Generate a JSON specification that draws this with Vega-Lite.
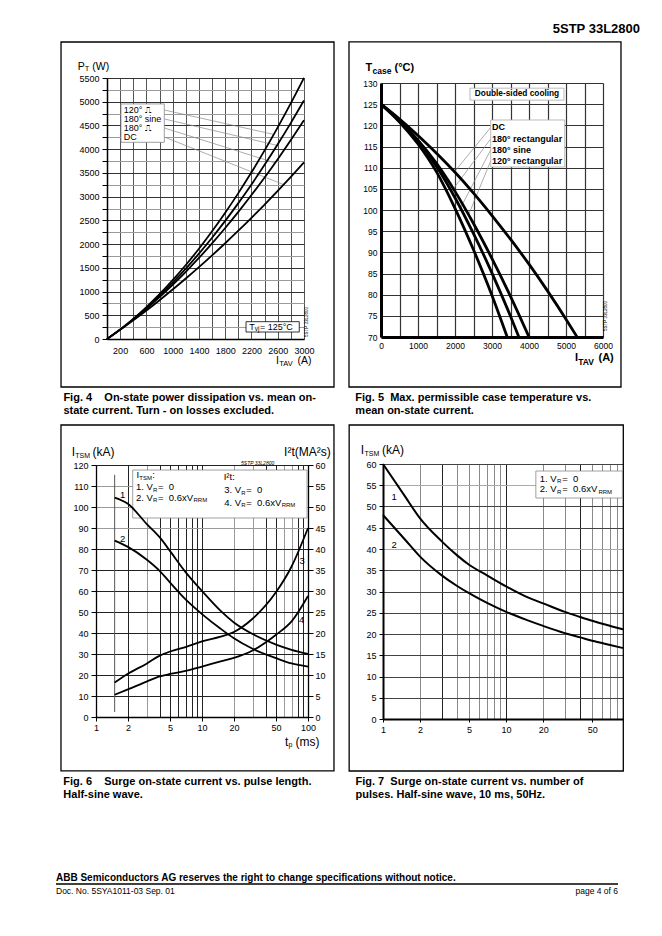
{
  "$schema": "https://vega.github.io/schema/vega-lite/v6.json",
  "padding": {"left": 46, "top": 23, "right": 5, "bottom": 5},
  "title": {"text": "5STP 33L2800", "orient": "top", "anchor": "end", "fontSize": 13, "fontWeight": "bold", "offset": 4, "dx": 13, "color": "black"},
  "datasets": {
    "fig4": [
      {"s": "DC", "i": 0, "p": 0}, {"s": "DC", "i": 200, "p": 193}, {"s": "DC", "i": 400, "p": 393}, {"s": "DC", "i": 600, "p": 601}, {"s": "DC", "i": 800, "p": 818}, {"s": "DC", "i": 1000, "p": 1042}, {"s": "DC", "i": 1200, "p": 1274}, {"s": "DC", "i": 1400, "p": 1514}, {"s": "DC", "i": 1600, "p": 1762}, {"s": "DC", "i": 1800, "p": 2018}, {"s": "DC", "i": 2000, "p": 2282}, {"s": "DC", "i": 2200, "p": 2554}, {"s": "DC", "i": 2400, "p": 2833}, {"s": "DC", "i": 2600, "p": 3121}, {"s": "DC", "i": 2800, "p": 3417}, {"s": "DC", "i": 3000, "p": 3720},
      {"s": "R180", "i": 0, "p": 0}, {"s": "R180", "i": 200, "p": 197}, {"s": "R180", "i": 400, "p": 409}, {"s": "R180", "i": 600, "p": 637}, {"s": "R180", "i": 800, "p": 881}, {"s": "R180", "i": 1000, "p": 1141}, {"s": "R180", "i": 1200, "p": 1416}, {"s": "R180", "i": 1400, "p": 1708}, {"s": "R180", "i": 1600, "p": 2015}, {"s": "R180", "i": 1800, "p": 2339}, {"s": "R180", "i": 2000, "p": 2678}, {"s": "R180", "i": 2200, "p": 3033}, {"s": "R180", "i": 2400, "p": 3404}, {"s": "R180", "i": 2600, "p": 3790}, {"s": "R180", "i": 2800, "p": 4193}, {"s": "R180", "i": 3000, "p": 4611},
      {"s": "S180", "i": 0, "p": 0}, {"s": "S180", "i": 200, "p": 198}, {"s": "S180", "i": 400, "p": 416}, {"s": "S180", "i": 600, "p": 654}, {"s": "S180", "i": 800, "p": 911}, {"s": "S180", "i": 1000, "p": 1187}, {"s": "S180", "i": 1200, "p": 1483}, {"s": "S180", "i": 1400, "p": 1799}, {"s": "S180", "i": 1600, "p": 2134}, {"s": "S180", "i": 1800, "p": 2489}, {"s": "S180", "i": 2000, "p": 2863}, {"s": "S180", "i": 2200, "p": 3257}, {"s": "S180", "i": 2400, "p": 3670}, {"s": "S180", "i": 2600, "p": 4103}, {"s": "S180", "i": 2800, "p": 4555}, {"s": "S180", "i": 3000, "p": 5027},
      {"s": "R120", "i": 0, "p": 0}, {"s": "R120", "i": 200, "p": 201}, {"s": "R120", "i": 400, "p": 425}, {"s": "R120", "i": 600, "p": 673}, {"s": "R120", "i": 800, "p": 944}, {"s": "R120", "i": 1000, "p": 1240}, {"s": "R120", "i": 1200, "p": 1559}, {"s": "R120", "i": 1400, "p": 1902}, {"s": "R120", "i": 1600, "p": 2269}, {"s": "R120", "i": 1800, "p": 2660}, {"s": "R120", "i": 2000, "p": 3074}, {"s": "R120", "i": 2200, "p": 3512}, {"s": "R120", "i": 2400, "p": 3974}, {"s": "R120", "i": 2600, "p": 4459}, {"s": "R120", "i": 2800, "p": 4969}, {"s": "R120", "i": 3000, "p": 5502}
    ],
    "fig4lead": [
      {"x1": 873, "y1": 4826, "x2": 2540, "y2": 4311},
      {"x1": 873, "y1": 4637, "x2": 2590, "y2": 4080},
      {"x1": 873, "y1": 4447, "x2": 2560, "y2": 3712},
      {"x1": 873, "y1": 4257, "x2": 2690, "y2": 3253}
    ],
    "fig4txt": [
      {"k": "t", "t": "P", "x": -446, "y": 5739},
      {"k": "ts", "t": "T", "x": -338, "y": 5680},
      {"k": "t", "t": "(W)", "x": -224, "y": 5739},
      {"k": "t", "t": "I", "x": 2573, "y": -464},
      {"k": "ts", "t": "TAV", "x": 2622, "y": -527},
      {"k": "t", "t": "(A)", "x": 2901, "y": -464},
      {"k": "l", "t": "120°  ⎍", "x": 254, "y": 4826},
      {"k": "l", "t": "180° sine", "x": 254, "y": 4637},
      {"k": "l", "t": "180°  ⎍", "x": 254, "y": 4447},
      {"k": "l", "t": "DC", "x": 254, "y": 4257},
      {"k": "l", "t": "T", "x": 2167, "y": 259},
      {"k": "ls", "t": "vj", "x": 2251, "y": 204},
      {"k": "l", "t": "= 125°C", "x": 2330, "y": 259},
      {"k": "w", "t": "5STP 33L2800", "x": 3041, "y": 358}
    ],
    "fig5": [
      {"s": "DC", "i": 0, "t": 125}, {"s": "DC", "i": 500, "t": 121.5}, {"s": "DC", "i": 1000, "t": 117.6}, {"s": "DC", "i": 1500, "t": 113.4}, {"s": "DC", "i": 2000, "t": 108.9}, {"s": "DC", "i": 2500, "t": 104.0}, {"s": "DC", "i": 3000, "t": 98.7}, {"s": "DC", "i": 3500, "t": 93.1}, {"s": "DC", "i": 4000, "t": 87.2}, {"s": "DC", "i": 4500, "t": 80.9}, {"s": "DC", "i": 5000, "t": 74.2}, {"s": "DC", "i": 5300, "t": 70.0},
      {"s": "R180", "i": 0, "t": 125}, {"s": "R180", "i": 500, "t": 121.1}, {"s": "R180", "i": 1000, "t": 116.5}, {"s": "R180", "i": 1500, "t": 111.0}, {"s": "R180", "i": 2000, "t": 104.4}, {"s": "R180", "i": 2500, "t": 96.8}, {"s": "R180", "i": 3000, "t": 88.5}, {"s": "R180", "i": 3500, "t": 79.6}, {"s": "R180", "i": 4000, "t": 70.0},
      {"s": "S180", "i": 0, "t": 125}, {"s": "S180", "i": 500, "t": 121.0}, {"s": "S180", "i": 1000, "t": 116.2}, {"s": "S180", "i": 1500, "t": 110.3}, {"s": "S180", "i": 2000, "t": 102.9}, {"s": "S180", "i": 2500, "t": 94.4}, {"s": "S180", "i": 3000, "t": 85.1}, {"s": "S180", "i": 3500, "t": 74.9}, {"s": "S180", "i": 3726, "t": 70.0},
      {"s": "R120", "i": 0, "t": 125}, {"s": "R120", "i": 500, "t": 120.8}, {"s": "R120", "i": 1000, "t": 115.6}, {"s": "R120", "i": 1500, "t": 109.0}, {"s": "R120", "i": 2000, "t": 100.4}, {"s": "R120", "i": 2500, "t": 90.6}, {"s": "R120", "i": 3000, "t": 79.8}, {"s": "R120", "i": 3250, "t": 73.9}, {"s": "R120", "i": 3411, "t": 70.0}
    ],
    "fig5lead": [
      {"x1": 2965, "y1": 119.5, "x2": 1985, "y2": 109.0},
      {"x1": 2965, "y1": 116.8, "x2": 1946, "y2": 104.9},
      {"x1": 2965, "y1": 114.2, "x2": 2150, "y2": 100.5},
      {"x1": 2965, "y1": 111.6, "x2": 2373, "y2": 99.0}
    ],
    "fig5txt": [
      {"k": "t", "t": "T", "x": -419, "y": 133.47},
      {"k": "ts", "t": "case", "x": -230, "y": 132.72},
      {"k": "t", "t": "(°C)", "x": 365, "y": 133.47},
      {"k": "t", "t": "I", "x": 5243, "y": 64.97},
      {"k": "ts", "t": "TAV", "x": 5332, "y": 64.21},
      {"k": "t", "t": "(A)", "x": 5878, "y": 64.97},
      {"k": "l", "t": "DC", "x": 3000, "y": 119.5},
      {"k": "l", "t": "180° rectangular", "x": 3000, "y": 116.8},
      {"k": "l", "t": "180° sine", "x": 3000, "y": 114.2},
      {"k": "l", "t": "120° rectangular", "x": 3000, "y": 111.6},
      {"k": "d", "t": "Double-sided cooling", "x": 3676, "y": 127.4},
      {"k": "w", "t": "5STP 33L2800", "x": 6081, "y": 74.96}
    ],
    "fig6": [
      {"s": "1", "t": 1.5, "v": 104.5}, {"s": "1", "t": 2, "v": 101.5}, {"s": "1", "t": 3, "v": 92}, {"s": "1", "t": 4, "v": 85.5}, {"s": "1", "t": 5, "v": 79}, {"s": "1", "t": 7, "v": 69}, {"s": "1", "t": 10, "v": 60}, {"s": "1", "t": 15, "v": 50.5}, {"s": "1", "t": 20, "v": 45}, {"s": "1", "t": 30, "v": 39.5}, {"s": "1", "t": 50, "v": 34.5}, {"s": "1", "t": 70, "v": 32}, {"s": "1", "t": 100, "v": 30},
      {"s": "2", "t": 1.5, "v": 84}, {"s": "2", "t": 2, "v": 81}, {"s": "2", "t": 3, "v": 75}, {"s": "2", "t": 4, "v": 69.5}, {"s": "2", "t": 5, "v": 64}, {"s": "2", "t": 7, "v": 56}, {"s": "2", "t": 10, "v": 49}, {"s": "2", "t": 15, "v": 42}, {"s": "2", "t": 20, "v": 37.5}, {"s": "2", "t": 30, "v": 32.5}, {"s": "2", "t": 50, "v": 28}, {"s": "2", "t": 70, "v": 25.5}, {"s": "2", "t": 100, "v": 24},
      {"s": "3", "t": 1.5, "v": 8.19}, {"s": "3", "t": 2, "v": 10.3}, {"s": "3", "t": 3, "v": 12.7}, {"s": "3", "t": 4, "v": 14.62}, {"s": "3", "t": 5, "v": 15.6}, {"s": "3", "t": 7, "v": 16.66}, {"s": "3", "t": 10, "v": 18.0}, {"s": "3", "t": 15, "v": 19.13}, {"s": "3", "t": 20, "v": 20.25}, {"s": "3", "t": 30, "v": 23.4}, {"s": "3", "t": 50, "v": 29.75}, {"s": "3", "t": 70, "v": 35.84}, {"s": "3", "t": 100, "v": 45.0},
      {"s": "4", "t": 1.5, "v": 5.29}, {"s": "4", "t": 2, "v": 6.56}, {"s": "4", "t": 3, "v": 8.44}, {"s": "4", "t": 4, "v": 9.66}, {"s": "4", "t": 5, "v": 10.24}, {"s": "4", "t": 7, "v": 10.98}, {"s": "4", "t": 10, "v": 12.0}, {"s": "4", "t": 15, "v": 13.23}, {"s": "4", "t": 20, "v": 14.06}, {"s": "4", "t": 30, "v": 15.84}, {"s": "4", "t": 50, "v": 19.6}, {"s": "4", "t": 70, "v": 22.75}, {"s": "4", "t": 100, "v": 28.8}
    ],
    "fig6txt": [
      {"k": "t", "t": "I", "x": 0.590, "y": 126.19},
      {"k": "ts", "t": "TSM", "x": 0.6378, "y": 124.52},
      {"k": "t", "t": "(kA)", "x": 0.9269, "y": 126.19},
      {"k": "t", "t": "I²t(MA²s)", "x": 59.5, "y": 126.19},
      {"k": "t", "t": "t", "x": 60.67, "y": -11.9},
      {"k": "ts", "t": "p", "x": 65.46, "y": -13.48},
      {"k": "t", "t": "(ms)", "x": 76.23, "y": -11.9},
      {"k": "l", "t": "I", "x": 2.411, "y": 115.10},
      {"k": "ls", "t": "TSM", "x": 2.562, "y": 113.81},
      {"k": "l", "t": ":", "x": 3.390, "y": 115.10},
      {"k": "l", "t": "1. V", "x": 2.384, "y": 109.52},
      {"k": "ls", "t": "R", "x": 3.450, "y": 108.33},
      {"k": "l", "t": "=\u00a0\u00a00", "x": 3.846, "y": 109.52},
      {"k": "l", "t": "2. V", "x": 2.384, "y": 104.29},
      {"k": "ls", "t": "R", "x": 3.450, "y": 103.10},
      {"k": "l", "t": "=\u00a0\u00a00.6xV", "x": 3.846, "y": 104.29},
      {"k": "ls", "t": "RRM", "x": 8.315, "y": 103.10},
      {"k": "l", "t": "I²t:", "x": 16.02, "y": 114.29},
      {"k": "l", "t": "3. V", "x": 16.23, "y": 107.95},
      {"k": "ls", "t": "R", "x": 23.49, "y": 106.81},
      {"k": "l", "t": "=\u00a0\u00a00", "x": 26.12, "y": 107.95},
      {"k": "l", "t": "4. V", "x": 16.23, "y": 102.05},
      {"k": "ls", "t": "R", "x": 23.49, "y": 100.95},
      {"k": "l", "t": "=\u00a0\u00a00.6xV", "x": 26.12, "y": 102.05},
      {"k": "ls", "t": "RRM", "x": 56.48, "y": 100.95},
      {"k": "l", "t": "1", "x": 1.684, "y": 105.7},
      {"k": "l", "t": "2", "x": 1.684, "y": 85},
      {"k": "l", "t": "3", "x": 83, "y": 74.2},
      {"k": "l", "t": "4", "x": 82.4, "y": 46.1},
      {"k": "w", "t": "5STP 33L2800", "x": 33.5, "y": 121.1}
    ],
    "fig7": [
      {"s": "1", "n": 1, "i": 60}, {"s": "1", "n": 1.5, "i": 52.5}, {"s": "1", "n": 2, "i": 47.2}, {"s": "1", "n": 3, "i": 41.8}, {"s": "1", "n": 4, "i": 38.5}, {"s": "1", "n": 5, "i": 36.3}, {"s": "1", "n": 7, "i": 33.8}, {"s": "1", "n": 10, "i": 31.2}, {"s": "1", "n": 15, "i": 28.6}, {"s": "1", "n": 20, "i": 27.2}, {"s": "1", "n": 30, "i": 25.2}, {"s": "1", "n": 40, "i": 24.0}, {"s": "1", "n": 50, "i": 23.1}, {"s": "1", "n": 70, "i": 21.9}, {"s": "1", "n": 89, "i": 21.1},
      {"s": "2", "n": 1, "i": 48}, {"s": "2", "n": 1.5, "i": 42.3}, {"s": "2", "n": 2, "i": 38.2}, {"s": "2", "n": 3, "i": 33.8}, {"s": "2", "n": 4, "i": 31.3}, {"s": "2", "n": 5, "i": 29.6}, {"s": "2", "n": 7, "i": 27.3}, {"s": "2", "n": 10, "i": 25.2}, {"s": "2", "n": 15, "i": 23.2}, {"s": "2", "n": 20, "i": 21.9}, {"s": "2", "n": 30, "i": 20.2}, {"s": "2", "n": 40, "i": 19.2}, {"s": "2", "n": 50, "i": 18.4}, {"s": "2", "n": 70, "i": 17.4}, {"s": "2", "n": 89, "i": 16.7}
    ],
    "fig7txt": [
      {"k": "t", "t": "I", "x": 0.6594, "y": 63.22},
      {"k": "ts", "t": "TSM", "x": 0.7066, "y": 62.47},
      {"k": "t", "t": "(kA)", "x": 0.981, "y": 63.22},
      {"k": "l", "t": "1. V", "x": 18.73, "y": 56.54},
      {"k": "ls", "t": "R", "x": 25.96, "y": 56.0},
      {"k": "l", "t": "=\u00a0\u00a00", "x": 28.51, "y": 56.54},
      {"k": "l", "t": "2. V", "x": 18.73, "y": 54.05},
      {"k": "ls", "t": "R", "x": 25.96, "y": 53.51},
      {"k": "l", "t": "=\u00a0\u00a00.6xV", "x": 28.51, "y": 54.05},
      {"k": "ls", "t": "RRM", "x": 56.23, "y": 53.51},
      {"k": "l", "t": "1", "x": 1.175, "y": 52.3},
      {"k": "l", "t": "2", "x": 1.175, "y": 40.9}
    ],
    "foot": [
      {"k": "b", "t": "ABB Semiconductors AG reserves the right to change specifications without notice.", "x": 0, "y": 14},
      {"k": "d", "t": "Doc. No. 5SYA1011-03 Sep. 01", "x": 0, "y": 1},
      {"k": "p", "t": "page 4 of 6", "x": 1, "y": 1}
    ]
  },
  "vconcat": [
    {
      "vconcat": [
        {
          "hconcat": [
            {"width": 1, "height": 1, "data": {"values": [{}]}, "mark": {"type": "point", "opacity": 0, "size": 1}, "encoding": {}},
            {
              "vconcat": [
                {"width": 1, "height": 1, "data": {"values": [{}]}, "mark": {"type": "point", "opacity": 0, "size": 1}, "encoding": {}},
                {
                  "width": 197, "height": 261,
                  "title": {"text": ["Fig. 4\u00a0\u00a0\u00a0\u00a0On-state power dissipation vs. mean on-", "\u00a0\u00a0\u00a0\u00a0\u00a0\u00a0\u00a0\u00a0\u00a0\u00a0\u00a0\u00a0\u00a0state current. Turn - on losses excluded."], "dx": 3},
                  "layer": [
                    {
                      "layer": [
                        {"data": {"values": [{}]}, "mark": {"type": "rect", "fill": "transparent", "stroke": "black", "strokeWidth": 1.3},
                         "encoding": {"x": {"datum": -700, "type": "quantitative", "axis": null, "scale": {"domain": [0, 3000], "nice": false, "zero": false}}, "x2": {"datum": 3457}, "y": {"datum": -1011, "type": "quantitative", "axis": null, "scale": {"domain": [0, 5500], "nice": false, "zero": false}}, "y2": {"datum": 6259}}},
                        {"data": {"name": "fig4lead"}, "mark": {"type": "rule", "color": "#888", "strokeWidth": 0.7},
                         "encoding": {"x": {"field": "x1", "type": "quantitative", "axis": null}, "y": {"field": "y1", "type": "quantitative", "axis": null}, "x2": {"field": "x2"}, "y2": {"field": "y2"}}},
                        {"data": {"values": [{}]}, "mark": {"type": "rect", "fill": "white", "stroke": "#888", "strokeWidth": 0.8},
                         "encoding": {"x": {"datum": 213, "type": "quantitative", "axis": null}, "x2": {"datum": 873}, "y": {"datum": 4145, "type": "quantitative", "axis": null}, "y2": {"datum": 4953}}},
                        {"data": {"values": [{}]}, "mark": {"type": "rect", "fill": "white", "stroke": "black", "strokeWidth": 0.8},
                         "encoding": {"x": {"datum": 2117, "type": "quantitative", "axis": null}, "x2": {"datum": 2928}, "y": {"datum": 147, "type": "quantitative", "axis": null}, "y2": {"datum": 365}}},
                        {"data": {"name": "fig4txt"}, "transform": [{"filter": "datum.k == 't'"}], "mark": {"type": "text", "align": "left", "baseline": "middle", "fontSize": 10.5},
                         "encoding": {"x": {"field": "x", "type": "quantitative", "axis": null}, "y": {"field": "y", "type": "quantitative", "axis": null}, "text": {"field": "t"}}},
                        {"data": {"name": "fig4txt"}, "transform": [{"filter": "datum.k == 'ts'"}], "mark": {"type": "text", "align": "left", "baseline": "middle", "fontSize": 7.5},
                         "encoding": {"x": {"field": "x", "type": "quantitative", "axis": null}, "y": {"field": "y", "type": "quantitative", "axis": null}, "text": {"field": "t"}}},
                        {"data": {"name": "fig4txt"}, "transform": [{"filter": "datum.k == 'l'"}], "mark": {"type": "text", "align": "left", "baseline": "middle", "fontSize": 9},
                         "encoding": {"x": {"field": "x", "type": "quantitative", "axis": null}, "y": {"field": "y", "type": "quantitative", "axis": null}, "text": {"field": "t"}}},
                        {"data": {"name": "fig4txt"}, "transform": [{"filter": "datum.k == 'ls'"}], "mark": {"type": "text", "align": "left", "baseline": "middle", "fontSize": 6.5},
                         "encoding": {"x": {"field": "x", "type": "quantitative", "axis": null}, "y": {"field": "y", "type": "quantitative", "axis": null}, "text": {"field": "t"}}},
                        {"data": {"name": "fig4txt"}, "transform": [{"filter": "datum.k == 'w'"}], "mark": {"type": "text", "align": "center", "baseline": "middle", "fontSize": 4.5, "angle": 270},
                         "encoding": {"x": {"field": "x", "type": "quantitative", "axis": null}, "y": {"field": "y", "type": "quantitative", "axis": null}, "text": {"field": "t"}}}
                      ]
                    },
                    {"data": {"name": "fig4"}, "mark": {"type": "line", "color": "black", "strokeWidth": 1.8, "interpolate": "monotone"},
                     "encoding": {
                       "x": {"field": "i", "type": "quantitative", "title": null, "scale": {"domain": [0, 3000], "nice": false, "zero": false},
                             "axis": {"grid": true, "labelOverlap": false, "values": [0,200,400,600,800,1000,1200,1400,1600,1800,2000,2200,2400,2600,2800,3000], "labelExpr": "datum.value % 400 == 200 ? datum.label : ''", "format": "d", "ticks": false, "tickSize": 0, "labelPadding": 7, "gridColor": "#555", "gridWidth": 1, "domainWidth": 1.5, "labelFontSize": 9}},
                       "y": {"field": "p", "type": "quantitative", "title": null, "scale": {"domain": [0, 5500], "nice": false, "zero": false},
                             "axis": {"grid": true, "labelOverlap": false, "values": [0,250,500,750,1000,1250,1500,1750,2000,2250,2500,2750,3000,3250,3500,3750,4000,4250,4500,4750,5000,5250,5500], "labelExpr": "datum.value % 500 == 0 ? datum.label : ''", "format": "d", "tickSize": 5, "labelPadding": 3, "gridColor": {"condition": {"test": "datum.value % 500 == 0", "value": "#333"}, "value": "#9a9a9a"}, "gridWidth": 1, "domainWidth": 1.5, "labelFontSize": 9}},
                       "detail": {"field": "s"}
                     }}
                  ],
                  "resolve": {"scale": {"x": "independent", "y": "independent"}}
                }
              ],
              "spacing": 0
            },
            {
              "vconcat": [
                {"width": 1, "height": 1, "data": {"values": [{}]}, "mark": {"type": "point", "opacity": 0, "size": 1}, "encoding": {}},
                {
                  "width": 222, "height": 254,
                  "title": {"text": ["Fig. 5\u00a0\u00a0Max. permissible case temperature vs.", "\u00a0\u00a0\u00a0\u00a0\u00a0\u00a0\u00a0\u00a0\u00a0\u00a0\u00a0mean on-state current."], "dx": 7},
                  "layer": [
                    {
                      "layer": [
                        {"data": {"values": [{}]}, "mark": {"type": "rect", "fill": "transparent", "stroke": "black", "strokeWidth": 1.3},
                         "encoding": {"x": {"datum": -865, "type": "quantitative", "axis": null, "scale": {"domain": [0, 6000], "nice": false, "zero": false}}, "x2": {"datum": 6486}, "y": {"datum": 58.19, "type": "quantitative", "axis": null, "scale": {"domain": [70, 130], "nice": false, "zero": false}}, "y2": {"datum": 139.7}}},
                        {"data": {"name": "fig5lead"}, "mark": {"type": "rule", "color": "#888", "strokeWidth": 0.7},
                         "encoding": {"x": {"field": "x1", "type": "quantitative", "axis": null}, "y": {"field": "y1", "type": "quantitative", "axis": null}, "x2": {"field": "x2"}, "y2": {"field": "y2"}}},
                        {"data": {"values": [{}]}, "mark": {"type": "rect", "fill": "white", "stroke": "#aaa", "strokeWidth": 0.8},
                         "encoding": {"x": {"datum": 2965, "type": "quantitative", "axis": null}, "x2": {"datum": 4965}, "y": {"datum": 110.16, "type": "quantitative", "axis": null}, "y2": {"datum": 121.26}}},
                        {"data": {"values": [{}]}, "mark": {"type": "rect", "fill": "white", "stroke": "#aaa", "strokeWidth": 0.8},
                         "encoding": {"x": {"datum": 2405, "type": "quantitative", "axis": null}, "x2": {"datum": 4946}, "y": {"datum": 125.95, "type": "quantitative", "axis": null}, "y2": {"datum": 128.78}}},
                        {"data": {"name": "fig5txt"}, "transform": [{"filter": "datum.k == 't'"}], "mark": {"type": "text", "align": "left", "baseline": "middle", "fontSize": 11, "fontWeight": "bold"},
                         "encoding": {"x": {"field": "x", "type": "quantitative", "axis": null}, "y": {"field": "y", "type": "quantitative", "axis": null}, "text": {"field": "t"}}},
                        {"data": {"name": "fig5txt"}, "transform": [{"filter": "datum.k == 'ts'"}], "mark": {"type": "text", "align": "left", "baseline": "middle", "fontSize": 8.5, "fontWeight": "bold"},
                         "encoding": {"x": {"field": "x", "type": "quantitative", "axis": null}, "y": {"field": "y", "type": "quantitative", "axis": null}, "text": {"field": "t"}}},
                        {"data": {"name": "fig5txt"}, "transform": [{"filter": "datum.k == 'l'"}], "mark": {"type": "text", "align": "left", "baseline": "middle", "fontSize": 9, "fontWeight": "bold"},
                         "encoding": {"x": {"field": "x", "type": "quantitative", "axis": null}, "y": {"field": "y", "type": "quantitative", "axis": null}, "text": {"field": "t"}}},
                        {"data": {"name": "fig5txt"}, "transform": [{"filter": "datum.k == 'd'"}], "mark": {"type": "text", "align": "center", "baseline": "middle", "fontSize": 8.3, "fontWeight": "bold"},
                         "encoding": {"x": {"field": "x", "type": "quantitative", "axis": null}, "y": {"field": "y", "type": "quantitative", "axis": null}, "text": {"field": "t"}}},
                        {"data": {"name": "fig5txt"}, "transform": [{"filter": "datum.k == 'w'"}], "mark": {"type": "text", "align": "center", "baseline": "middle", "fontSize": 4.5, "angle": 270},
                         "encoding": {"x": {"field": "x", "type": "quantitative", "axis": null}, "y": {"field": "y", "type": "quantitative", "axis": null}, "text": {"field": "t"}}}
                      ]
                    },
                    {"data": {"name": "fig5"}, "mark": {"type": "line", "color": "black", "strokeWidth": 2.8, "interpolate": "monotone"},
                     "encoding": {
                       "x": {"field": "i", "type": "quantitative", "title": null, "scale": {"domain": [0, 6000], "nice": false, "zero": false},
                             "axis": {"grid": true, "labelOverlap": false, "values": [0,500,1000,1500,2000,2500,3000,3500,4000,4500,5000,5500,6000], "labelExpr": "datum.value % 1000 == 0 ? datum.label : ''", "format": "d", "ticks": false, "tickSize": 0, "labelPadding": 4, "gridColor": "#333", "gridWidth": 1.2, "domainWidth": 3, "labelFontSize": 8.5}},
                       "y": {"field": "t", "type": "quantitative", "title": null, "scale": {"domain": [70, 130], "nice": false, "zero": false},
                             "axis": {"grid": true, "labelOverlap": false, "values": [70,75,80,85,90,95,100,105,110,115,120,125,130], "format": "d", "ticks": false, "tickSize": 0, "labelPadding": 4, "gridColor": "#333", "gridWidth": 1.2, "domainWidth": 3, "labelFontSize": 8.5}},
                       "detail": {"field": "s"}
                     }}
                  ],
                  "resolve": {"scale": {"x": "independent", "y": "independent"}}
                }
              ],
              "spacing": 0
            }
          ],
          "spacing": 13
        },
        {
          "hconcat": [
            {"width": 1, "height": 1, "data": {"values": [{}]}, "mark": {"type": "point", "opacity": 0, "size": 1}, "encoding": {}},
            {
              "vconcat": [
                {"width": 1, "height": 1, "data": {"values": [{}]}, "mark": {"type": "point", "opacity": 0, "size": 1}, "encoding": {}},
                {
                  "width": 212, "height": 252,
                  "title": {"text": ["Fig. 6\u00a0\u00a0\u00a0\u00a0Surge on-state current vs. pulse length.", "\u00a0\u00a0\u00a0\u00a0\u00a0\u00a0\u00a0\u00a0\u00a0\u00a0\u00a0\u00a0\u00a0Half-sine wave."], "dx": 3},
                  "layer": [
                    {
                      "layer": [
                        {"data": {"values": [{}]}, "mark": {"type": "rect", "fill": "transparent", "stroke": "black", "strokeWidth": 1.3},
                         "encoding": {"x": {"datum": 0.4673, "type": "quantitative", "axis": null, "scale": {"type": "log", "domain": [1, 100], "nice": false}}, "x2": {"datum": 175.8}, "y": {"datum": -25.7, "type": "quantitative", "axis": null, "scale": {"domain": [0, 120], "nice": false, "zero": false}}, "y2": {"datum": 139.05}}},
                        {"data": {"values": [{}]}, "mark": {"type": "rule", "color": "#555", "strokeWidth": 1},
                         "encoding": {"x": {"datum": 1.5, "type": "quantitative", "axis": null}, "y": {"datum": 2.4, "type": "quantitative", "axis": null}, "y2": {"datum": 115.3}}},
                        {"data": {"values": [{}]}, "mark": {"type": "rect", "fill": "white", "stroke": "#888", "strokeWidth": 0.8},
                         "encoding": {"x": {"datum": 2.22, "type": "quantitative", "axis": null}, "x2": {"datum": 97.9}, "y": {"datum": 94.76, "type": "quantitative", "axis": null}, "y2": {"datum": 117.6}}},
                        {"data": {"name": "fig6txt"}, "transform": [{"filter": "datum.k == 't'"}], "mark": {"type": "text", "align": "left", "baseline": "middle", "fontSize": 12},
                         "encoding": {"x": {"field": "x", "type": "quantitative", "axis": null}, "y": {"field": "y", "type": "quantitative", "axis": null}, "text": {"field": "t"}}},
                        {"data": {"name": "fig6txt"}, "transform": [{"filter": "datum.k == 'ts'"}], "mark": {"type": "text", "align": "left", "baseline": "middle", "fontSize": 7},
                         "encoding": {"x": {"field": "x", "type": "quantitative", "axis": null}, "y": {"field": "y", "type": "quantitative", "axis": null}, "text": {"field": "t"}}},
                        {"data": {"name": "fig6txt"}, "transform": [{"filter": "datum.k == 'l'"}], "mark": {"type": "text", "align": "left", "baseline": "middle", "fontSize": 9.5},
                         "encoding": {"x": {"field": "x", "type": "quantitative", "axis": null}, "y": {"field": "y", "type": "quantitative", "axis": null}, "text": {"field": "t"}}},
                        {"data": {"name": "fig6txt"}, "transform": [{"filter": "datum.k == 'ls'"}], "mark": {"type": "text", "align": "left", "baseline": "middle", "fontSize": 6},
                         "encoding": {"x": {"field": "x", "type": "quantitative", "axis": null}, "y": {"field": "y", "type": "quantitative", "axis": null}, "text": {"field": "t"}}},
                        {"data": {"name": "fig6txt"}, "transform": [{"filter": "datum.k == 'w'"}], "mark": {"type": "text", "align": "center", "baseline": "middle", "fontSize": 5, "fontStyle": "italic"},
                         "encoding": {"x": {"field": "x", "type": "quantitative", "axis": null}, "y": {"field": "y", "type": "quantitative", "axis": null}, "text": {"field": "t"}}}
                      ]
                    },
                    {"data": {"name": "fig6"}, "transform": [{"filter": "datum.s == '1' || datum.s == '2'"}], "mark": {"type": "line", "color": "black", "strokeWidth": 1.8, "interpolate": "monotone"},
                     "encoding": {
                       "x": {"field": "t", "type": "quantitative", "title": null, "scale": {"type": "log", "domain": [1, 100], "nice": false},
                             "axis": {"grid": true, "labelOverlap": false, "values": [1,2,3,4,5,6,7,8,9,10,20,30,40,50,60,70,80,90,100], "labelExpr": "indexof([1,2,5,10,20,50,100], datum.value) >= 0 ? datum.label : ''", "format": "d", "tickSize": 4, "tickColor": {"condition": {"test": "indexof([1,2,5,10,20,50,100], datum.value) >= 0", "value": "black"}, "value": "transparent"}, "labelPadding": 2, "gridColor": {"condition": {"test": "indexof([3,20,30,60,70], datum.value) >= 0", "value": "#9a9a9a"}, "value": "#222"}, "gridWidth": 1, "domainWidth": 1.3, "labelFontSize": 9}},
                       "y": {"field": "v", "type": "quantitative", "title": null, "scale": {"domain": [0, 120], "nice": false, "zero": false},
                             "axis": {"grid": true, "labelOverlap": false, "values": [0,10,20,30,40,50,60,70,80,90,100,110,120], "format": "d", "tickSize": 5, "labelPadding": 3, "gridColor": {"condition": {"test": "datum.value >= 90 && datum.value < 120", "value": "#9a9a9a"}, "value": "#222"}, "gridWidth": 1, "domainWidth": 1.3, "labelFontSize": 9}},
                       "detail": {"field": "s"}
                     }},
                    {"data": {"name": "fig6"}, "transform": [{"filter": "datum.s == '3' || datum.s == '4'"}], "mark": {"type": "line", "color": "black", "strokeWidth": 1.8, "interpolate": "monotone"},
                     "encoding": {
                       "x": {"field": "t", "type": "quantitative", "axis": null, "scale": {"type": "log", "domain": [1, 100], "nice": false}},
                       "y": {"field": "v", "type": "quantitative", "title": null, "scale": {"domain": [0, 60], "nice": false, "zero": false},
                             "axis": {"orient": "right", "grid": false, "labelOverlap": false, "values": [0,5,10,15,20,25,30,35,40,45,50,55,60], "format": "d", "tickSize": 5, "labelPadding": 2, "domainWidth": 1.3, "labelFontSize": 9}},
                       "detail": {"field": "s"}
                     }}
                  ],
                  "resolve": {"scale": {"x": "independent", "y": "independent"}}
                }
              ],
              "spacing": 0
            },
            {
              "vconcat": [
                {"width": 1, "height": 1, "data": {"values": [{}]}, "mark": {"type": "point", "opacity": 0, "size": 1}, "encoding": {}},
                {
                  "width": 240, "height": 255,
                  "title": {"text": ["Fig. 7\u00a0\u00a0Surge on-state current vs. number of", "\u00a0\u00a0\u00a0\u00a0\u00a0\u00a0\u00a0\u00a0\u00a0\u00a0\u00a0pulses. Half-sine wave, 10 ms, 50Hz."], "dx": 7},
                  "layer": [
                    {
                      "layer": [
                        {"data": {"values": [{}]}, "mark": {"type": "rect", "fill": "transparent", "stroke": "black", "strokeWidth": 1.3},
                         "encoding": {"x": {"datum": 0.531, "type": "quantitative", "axis": null, "scale": {"type": "log", "domain": [1, 89], "nice": false}}, "x2": {"datum": 89.5}, "y": {"datum": -12.24, "type": "quantitative", "axis": null, "scale": {"domain": [0, 60], "nice": false, "zero": false}}, "y2": {"datum": 69.18}}},
                        {"data": {"values": [{}]}, "mark": {"type": "rect", "fill": "white", "stroke": "#888", "strokeWidth": 0.8},
                         "encoding": {"x": {"datum": 17.44, "type": "quantitative", "axis": null}, "x2": {"datum": 88}, "y": {"datum": 52.0, "type": "quantitative", "axis": null}, "y2": {"datum": 58.35}}},
                        {"data": {"name": "fig7txt"}, "transform": [{"filter": "datum.k == 't'"}], "mark": {"type": "text", "align": "left", "baseline": "middle", "fontSize": 12},
                         "encoding": {"x": {"field": "x", "type": "quantitative", "axis": null}, "y": {"field": "y", "type": "quantitative", "axis": null}, "text": {"field": "t"}}},
                        {"data": {"name": "fig7txt"}, "transform": [{"filter": "datum.k == 'ts'"}], "mark": {"type": "text", "align": "left", "baseline": "middle", "fontSize": 7},
                         "encoding": {"x": {"field": "x", "type": "quantitative", "axis": null}, "y": {"field": "y", "type": "quantitative", "axis": null}, "text": {"field": "t"}}},
                        {"data": {"name": "fig7txt"}, "transform": [{"filter": "datum.k == 'l'"}], "mark": {"type": "text", "align": "left", "baseline": "middle", "fontSize": 9.5},
                         "encoding": {"x": {"field": "x", "type": "quantitative", "axis": null}, "y": {"field": "y", "type": "quantitative", "axis": null}, "text": {"field": "t"}}},
                        {"data": {"name": "fig7txt"}, "transform": [{"filter": "datum.k == 'ls'"}], "mark": {"type": "text", "align": "left", "baseline": "middle", "fontSize": 6},
                         "encoding": {"x": {"field": "x", "type": "quantitative", "axis": null}, "y": {"field": "y", "type": "quantitative", "axis": null}, "text": {"field": "t"}}}
                      ]
                    },
                    {"data": {"name": "fig7"}, "mark": {"type": "line", "color": "black", "strokeWidth": 2, "interpolate": "monotone"},
                     "encoding": {
                       "x": {"field": "n", "type": "quantitative", "title": null, "scale": {"type": "log", "domain": [1, 89], "nice": false},
                             "axis": {"grid": true, "labelOverlap": false, "values": [1,2,3,4,5,6,7,8,9,10,20,30,40,50,60,70,80], "labelExpr": "indexof([1,2,5,10,20,50], datum.value) >= 0 ? datum.label : ''", "format": "d", "tickSize": 3, "tickColor": {"condition": {"test": "indexof([1,2,5,10,20,50], datum.value) >= 0", "value": "black"}, "value": "transparent"}, "labelPadding": 3, "gridColor": {"condition": {"test": "indexof([3,10,40], datum.value) >= 0", "value": "#222"}, "value": "#8a8a8a"}, "gridWidth": 1, "domainWidth": 2, "labelFontSize": 9}},
                       "y": {"field": "i", "type": "quantitative", "title": null, "scale": {"domain": [0, 60], "nice": false, "zero": false},
                             "axis": {"grid": true, "labelOverlap": false, "values": [0,5,10,15,20,25,30,35,40,45,50,55,60], "format": "d", "tickSize": 4, "labelPadding": 3, "gridColor": {"condition": {"test": "datum.value == 40 || datum.value == 55", "value": "#aaa"}, "value": "#444"}, "gridWidth": 1, "domainWidth": 2, "labelFontSize": 9}},
                       "detail": {"field": "s"}
                     }}
                  ],
                  "resolve": {"scale": {"x": "independent", "y": "independent"}}
                }
              ],
              "spacing": 0
            }
          ],
          "spacing": 13
        }
      ],
      "spacing": 7
    },
    {
      "hconcat": [
        {"width": 1, "height": 1, "data": {"values": [{}]}, "mark": {"type": "point", "opacity": 0, "size": 1}, "encoding": {}},
        {
          "width": 562, "height": 24,
          "data": {"name": "foot"},
          "layer": [
            {"transform": [{"filter": "datum.k == 'b'"}], "mark": {"type": "text", "align": "left", "baseline": "middle", "fontSize": 10, "fontWeight": "bold"},
             "encoding": {"x": {"field": "x", "type": "quantitative", "scale": {"domain": [0, 1]}, "axis": null}, "y": {"field": "y", "type": "quantitative", "scale": {"domain": [0, 24]}, "axis": null}, "text": {"field": "t"}}},
            {"transform": [{"filter": "datum.k == 'd'"}], "mark": {"type": "text", "align": "left", "baseline": "middle", "fontSize": 8.5},
             "encoding": {"x": {"field": "x", "type": "quantitative", "axis": null}, "y": {"field": "y", "type": "quantitative", "axis": null}, "text": {"field": "t"}}},
            {"transform": [{"filter": "datum.k == 'p'"}], "mark": {"type": "text", "align": "right", "baseline": "middle", "fontSize": 8.5},
             "encoding": {"x": {"field": "x", "type": "quantitative", "axis": null}, "y": {"field": "y", "type": "quantitative", "axis": null}, "text": {"field": "t"}}},
            {"data": {"values": [{}]}, "mark": {"type": "rule", "color": "black", "strokeWidth": 1.5},
             "encoding": {"x": {"datum": 0, "type": "quantitative", "axis": null}, "x2": {"datum": 1}, "y": {"datum": 8, "type": "quantitative", "axis": null}}}
          ]
        }
      ],
      "spacing": 8
    }
  ],
  "spacing": 68,
  "config": {
    "font": "Liberation Sans",
    "view": {"stroke": null},
    "axis": {"labelFont": "Liberation Sans", "labelColor": "black", "domainColor": "black", "tickColor": "black", "labelFlush": false, "labelOverlap": false, "grid": true},
    "title": {"font": "Liberation Sans", "fontSize": 11, "fontWeight": "bold", "color": "black", "orient": "bottom", "anchor": "start", "offset": 0, "lineHeight": 13},
    "text": {"font": "Liberation Sans", "color": "black"}
  }
}
